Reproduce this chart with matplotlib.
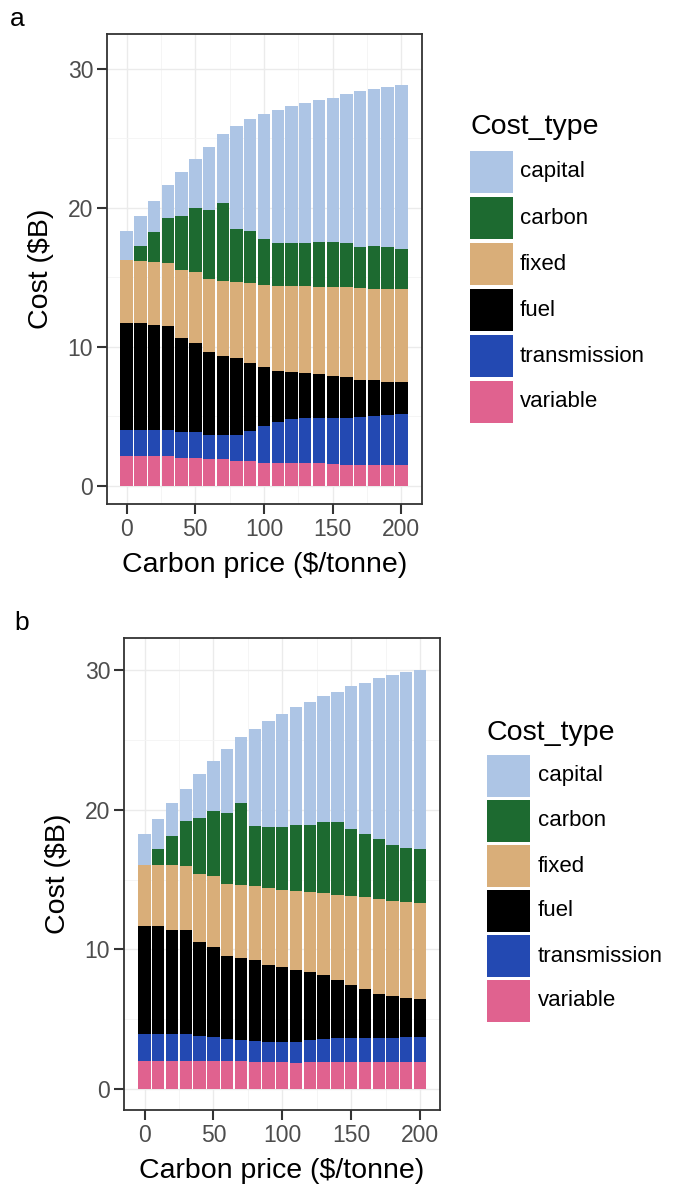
import numpy as np
import matplotlib.pyplot as plt
from matplotlib.patches import Rectangle

plt.rcParams['font.family'] = ['Liberation Sans', 'DejaVu Sans']

carbon_price = [0, 10, 20, 30, 40, 50, 60, 70, 80, 90, 100,
                110, 120, 130, 140, 150, 160, 170, 180, 190, 200]
cost_types = ['capital', 'carbon', 'fixed', 'fuel', 'transmission', 'variable']
colors = ['#adc5e5', '#1d6a30', '#d9ae79', '#000000', '#2349b2', '#e0628f']

# panel a, $B per cost type
a_variable = [2.16, 2.16, 2.16, 2.13, 2.01, 2.01, 1.94, 1.89, 1.80, 1.80, 1.61,
              1.61, 1.65, 1.65, 1.61, 1.53, 1.49, 1.49, 1.49, 1.49, 1.49]
a_transmission = [1.84, 1.84, 1.84, 1.87, 1.87, 1.82, 1.70, 1.75, 1.84, 2.13, 2.68,
                  2.94, 3.14, 3.24, 3.28, 3.36, 3.40, 3.47, 3.52, 3.59, 3.66]
a_fuel = [7.74, 7.67, 7.55, 7.50, 6.71, 6.45, 5.95, 5.68, 5.51, 4.91, 4.22,
          3.69, 3.41, 3.19, 3.14, 2.99, 2.90, 2.64, 2.56, 2.40, 2.33]
a_fixed = [4.48, 4.51, 4.55, 4.53, 4.96, 5.06, 5.27, 5.39, 5.49, 5.75, 5.92,
           6.14, 6.15, 6.27, 6.30, 6.43, 6.49, 6.59, 6.59, 6.68, 6.68]
a_carbon = [0.00, 1.10, 2.14, 3.24, 3.86, 4.65, 5.01, 5.64, 3.84, 3.72, 3.33,
            3.09, 3.12, 3.12, 3.23, 3.21, 3.19, 2.99, 3.09, 3.02, 2.90]
a_capital = [2.11, 2.13, 2.27, 2.37, 3.16, 3.54, 4.50, 4.93, 7.38, 8.07, 9.01,
             9.58, 9.82, 10.06, 10.17, 10.40, 10.74, 11.19, 11.31, 11.50, 11.79]

# panel b, $B per cost type
b_variable = [2.03, 2.03, 2.03, 2.03, 2.03, 2.03, 1.99, 1.99, 1.96, 1.96, 1.96,
              1.89, 1.96, 1.96, 1.96, 1.96, 1.96, 1.96, 1.96, 1.96, 1.96]
b_transmission = [1.92, 1.92, 1.92, 1.92, 1.80, 1.68, 1.57, 1.53, 1.51, 1.44, 1.44,
                  1.51, 1.56, 1.60, 1.68, 1.68, 1.68, 1.68, 1.68, 1.75, 1.75]
b_fuel = [7.70, 7.70, 7.46, 7.41, 6.70, 6.46, 5.94, 5.86, 5.74, 5.50, 5.33,
          5.09, 4.83, 4.62, 4.18, 3.82, 3.51, 3.18, 2.99, 2.80, 2.75]
b_fixed = [4.43, 4.43, 4.62, 4.60, 4.88, 5.07, 5.21, 5.26, 5.36, 5.50, 5.55,
           5.67, 5.74, 5.86, 6.10, 6.39, 6.58, 6.79, 6.81, 6.86, 6.87]
b_carbon = [0.00, 1.14, 2.08, 3.23, 3.97, 4.66, 5.03, 5.86, 4.26, 4.38, 4.50,
            4.72, 4.83, 5.07, 5.19, 4.74, 4.57, 4.31, 4.07, 3.90, 3.87]
b_capital = [2.15, 2.13, 2.34, 2.32, 3.16, 3.59, 4.59, 4.74, 6.98, 7.58, 8.06,
             8.51, 8.81, 9.05, 9.33, 10.24, 10.81, 11.48, 12.13, 12.61, 12.82]

W, H = 685, 1184


def px_box(left, top, right, bottom):
    return [left / W, 1 - bottom / H, (right - left) / W, (bottom - top) / H]


def stacked_panel(ax, layers, ylim, xlim):
    # ggplot stacks the first factor level on top, so draw from the bottom up
    base = np.zeros(len(carbon_price))
    for name in reversed(cost_types):
        vals = np.array(layers[name])
        ax.bar(carbon_price, vals, bottom=base, width=9,
               color=colors[cost_types.index(name)], linewidth=0, zorder=3)
        base += vals
    ax.set_xlim(*xlim)
    ax.set_ylim(*ylim)
    ax.set_xticks([0, 50, 100, 150, 200])
    ax.set_yticks([0, 10, 20, 30])
    ax.set_xticks([25, 75, 125, 175], minor=True)
    ax.set_yticks([5, 15, 25], minor=True)
    ax.grid(which='major', color='#ebebeb', linewidth=1.0, zorder=0)
    ax.grid(which='minor', color='#f4f4f4', linewidth=0.6, zorder=0)
    ax.tick_params(which='minor', length=0)
    ax.tick_params(which='major', length=7, width=1.5, color='#333333',
                   labelsize=16.5, labelcolor='#4d4d4d', pad=3)
    for s in ax.spines.values():
        s.set_color('#333333')
        s.set_linewidth(1.3)
    ax.set_xlabel('Carbon price ($/tonne)', fontsize=20.5, labelpad=8)
    ax.set_ylabel('Cost ($B)', fontsize=20.5, labelpad=10)


def draw_legend(fig, key_left, title_y, key_top, text_left, pitch):
    fig.text(key_left / W, 1 - title_y / H, 'Cost_type', fontsize=20.5,
             ha='left', va='center')
    for i, (name, c) in enumerate(zip(cost_types, colors)):
        top = key_top + i * pitch
        fig.add_artist(Rectangle((key_left / W, 1 - (top + 42) / H), 43 / W, 42 / H,
                                 transform=fig.transFigure, facecolor=c,
                                 edgecolor='none'))
        fig.text(text_left / W, 1 - (top + 21) / H, name, fontsize=16,
                 ha='left', va='center')


fig = plt.figure(figsize=(6.85, 11.84), dpi=100)

ax_a = fig.add_axes(px_box(107, 34, 422, 504))
stacked_panel(ax_a, dict(zip(cost_types, [a_capital, a_carbon, a_fixed, a_fuel,
                                          a_transmission, a_variable])),
              (-1.32, 32.5), (-14.3, 215.0))

ax_b = fig.add_axes(px_box(124, 638, 440, 1110))
stacked_panel(ax_b, dict(zip(cost_types, [b_capital, b_carbon, b_fixed, b_fuel,
                                          b_transmission, b_variable])),
              (-1.5, 32.3), (-14.9, 214.5))

draw_legend(fig, 470, 127, 151, 520, 46)
draw_legend(fig, 487, 733, 755, 538, 45)

fig.text(17 / W, 1 - 19 / H, 'a', fontsize=19, ha='center', va='center')
fig.text(22 / W, 1 - 623 / H, 'b', fontsize=19, ha='center', va='center')

fig.savefig('out.png', dpi=100)
